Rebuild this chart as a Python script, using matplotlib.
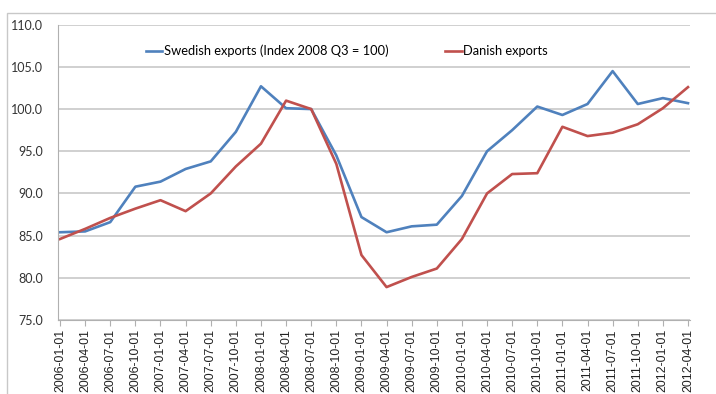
import matplotlib
matplotlib.use('Agg')
import matplotlib.pyplot as plt
from matplotlib.patches import Rectangle

# quarter labels on the x axis
quarters = ['2006-01-01', '2006-04-01', '2006-07-01', '2006-10-01',
            '2007-01-01', '2007-04-01', '2007-07-01', '2007-10-01',
            '2008-01-01', '2008-04-01', '2008-07-01', '2008-10-01',
            '2009-01-01', '2009-04-01', '2009-07-01', '2009-10-01',
            '2010-01-01', '2010-04-01', '2010-07-01', '2010-10-01',
            '2011-01-01', '2011-04-01', '2011-07-01', '2011-10-01',
            '2012-01-01', '2012-04-01']

# index values
swedish = [85.4, 85.5, 86.6, 90.8, 91.4, 92.9, 93.8, 97.3, 102.7, 100.1,
           100.0, 94.5, 87.2, 85.4, 86.1, 86.3, 89.7, 95.0, 97.5, 100.3,
           99.3, 100.6, 104.5, 100.6, 101.3, 100.7]
danish = [84.6, 85.8, 87.1, 88.2, 89.2, 87.9, 90.0, 93.2, 95.9, 101.0,
          100.0, 93.5, 82.7, 78.9, 80.1, 81.1, 84.6, 90.0, 92.3, 92.4,
          97.9, 96.8, 97.2, 98.2, 100.1, 102.6]

y_ticks = [75, 80, 85, 90, 95, 100, 105, 110]

W, H = 716, 394
fig = plt.figure(figsize=(W / 100, H / 100), dpi=100)
ax = fig.add_axes([58 / W, 1 - 320 / H, (690 - 58) / W, (320 - 24.7) / H])

# chart area frame (Excel style)
fig.add_artist(Rectangle((7 / W, -0.1), 1.2, (H - 13) / H + 0.1, transform=fig.transFigure,
                         fill=False, edgecolor='#c8c8c8', lw=1.0))

x = list(range(len(quarters)))
ax.plot(x, swedish, color='#4F81BD', lw=1.9, solid_joinstyle='round',
        label='Swedish exports (Index 2008 Q3 = 100)')
ax.plot(x, danish, color='#C0504D', lw=1.9, solid_joinstyle='round',
        label='Danish exports')

ax.set_ylim(75, 110)
ax.set_xlim(-0.08, 25.08)
ax.set_yticks(y_ticks)
ax.set_yticklabels(['%.1f' % v for v in y_ticks], fontfamily='Lato', fontsize=9, color='#333333')
ax.tick_params(axis='y', length=0, pad=11)
ax.set_xticks(x)
ax.set_xticklabels(quarters, rotation=90, fontfamily='Liberation Sans', fontsize=8.9, color='#222222')
ax.tick_params(axis='x', length=4, color='#b0b0b0', pad=2.5)

ax.grid(axis='y', color='#c8c8c8', lw=1.2)
ax.set_axisbelow(True)
for s in ['top', 'right']:
    ax.spines[s].set_visible(False)
ax.spines['left'].set_color('#b0b0b0')
ax.spines['bottom'].set_color('#b0b0b0')

ax.legend(loc='center', ncol=2, frameon=False, bbox_to_anchor=(0.457, 0.911),
          prop={'family': 'Lato', 'size': 9.3}, handlelength=1.3, handletextpad=0.1,
          columnspacing=4.4, borderpad=0, borderaxespad=0)

fig.savefig('out.png', dpi=100)
